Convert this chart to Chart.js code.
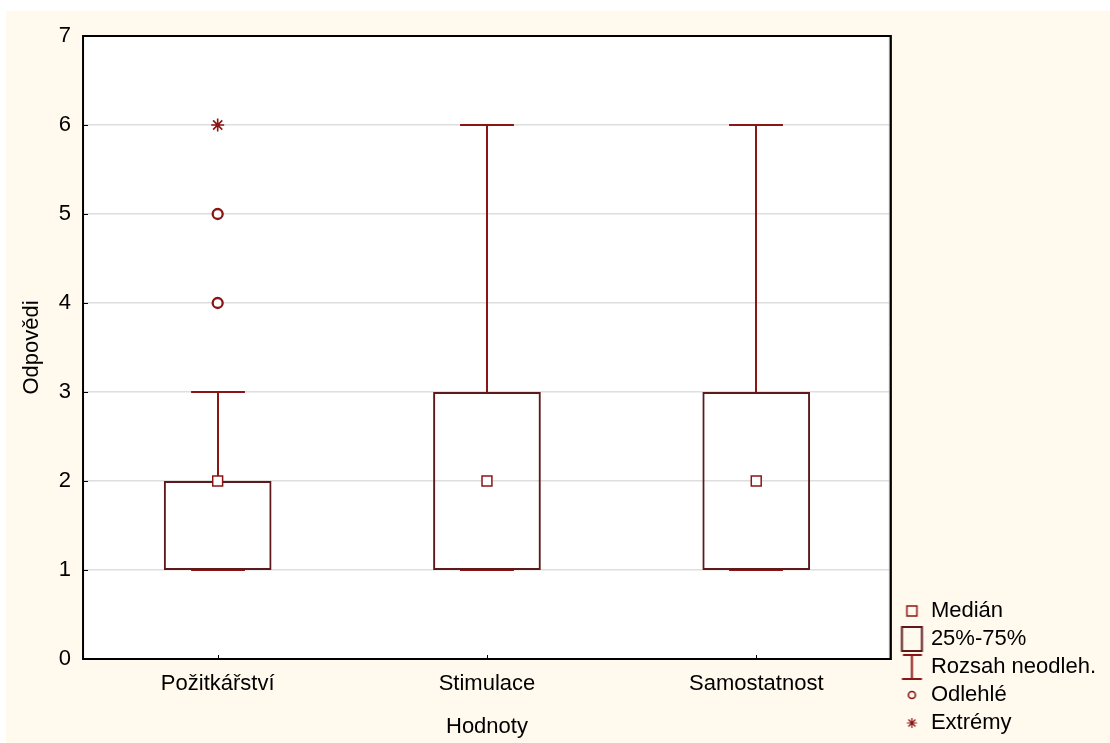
<!DOCTYPE html>
<html lang="cs">
<head>
<meta charset="utf-8">
<title>Odpovědi podle hodnot</title>
<script src="https://cdn.jsdelivr.net/npm/chart.js@4.4.1/dist/chart.umd.min.js"></script>
<style>
  html, body { margin: 0; padding: 0; background: #ffffff; }
  #wrap { width: 1110px; height: 743px; position: relative; }
</style>
</head>
<body>
<div id="wrap"><canvas id="chart"></canvas></div>
<script>
// Box-plot statistics per value category
const categories = ['Požitkářství', 'Stimulace', 'Samostatnost'];
const lowerQuartile = [1, 1, 1];
const upperQuartile = [2, 3, 3];
const medians = [2, 2, 2];
const rangeMin = [1, 1, 1];
const rangeMax = [3, 6, 6];
const outliers = [[4, 5], [], []];
const extremes = [[6], [], []];
const yTicks = [0, 1, 2, 3, 4, 5, 6, 7];
const legendLabels = ['Medián', '25%-75%', 'Rozsah neodleh.', 'Odlehlé', 'Extrémy'];

const CREAM = '#fff9ee';
const BOX_EDGE = '#5e1a1a';
const MARK = '#8b1414';
const FONT = '"Liberation Sans", Arial, Helvetica, sans-serif';

Chart.defaults.font.family = FONT;
Chart.defaults.font.size = 22;
Chart.defaults.color = '#000';

// Legend symbols drawn on small canvases
function makeIcon(draw) {
  const c = document.createElement('canvas');
  c.width = 32; c.height = 32;
  const g = c.getContext('2d');
  draw(g, 19.5, 16);
  return c;
}
const legendIcons = [
  makeIcon((g, x, y) => { g.strokeStyle = MARK; g.lineWidth = 1.5; g.strokeRect(x - 5, y - 5, 10, 10); }),
  makeIcon((g, x, y) => { g.strokeStyle = BOX_EDGE; g.lineWidth = 2; g.strokeRect(x - 10, y - 12, 20, 24); }),
  makeIcon((g, x, y) => {
    g.strokeStyle = MARK; g.lineWidth = 2; g.beginPath();
    g.moveTo(x - 9, y - 12); g.lineTo(x + 10, y - 12);
    g.moveTo(x - 10, y + 12); g.lineTo(x + 10, y + 12);
    g.moveTo(x, y - 12); g.lineTo(x, y + 12);
    g.stroke();
  }),
  makeIcon((g, x, y) => { g.strokeStyle = MARK; g.lineWidth = 1.6; g.beginPath(); g.arc(x, y, 3.5, 0, Math.PI * 2); g.stroke(); }),
  makeIcon((g, x, y) => {
    g.strokeStyle = MARK; g.lineWidth = 1.2; g.beginPath();
    g.moveTo(x - 5, y); g.lineTo(x + 5, y);
    g.moveTo(x, y - 5); g.lineTo(x, y + 5);
    g.moveTo(x - 3.5, y - 3.5); g.lineTo(x + 3.5, y + 3.5);
    g.moveTo(x - 3.5, y + 3.5); g.lineTo(x + 3.5, y - 3.5);
    g.stroke();
  })
];

// Page background, white plotting area
const backgroundPlugin = {
  id: 'background',
  beforeDraw(chart) {
    const { ctx, width, height, chartArea: a } = chart;
    ctx.save();
    ctx.fillStyle = '#ffffff';
    ctx.fillRect(0, 0, width, height);
    ctx.fillStyle = CREAM;
    ctx.fillRect(6, 11, width - 6, height - 11);
    ctx.fillStyle = '#ffffff';
    ctx.fillRect(a.left, a.top, a.right - a.left, a.bottom - a.top);
    ctx.restore();
  }
};

// Whiskers (non-outlier range) drawn behind the boxes
const whiskerPlugin = {
  id: 'whiskers',
  beforeDatasetsDraw(chart) {
    const { ctx, scales: { x, y } } = chart;
    const catW = x.getPixelForValue(1) - x.getPixelForValue(0);
    const cap = catW * 0.1;
    ctx.save();
    ctx.strokeStyle = MARK;
    ctx.lineWidth = 2;
    categories.forEach((_, i) => {
      const cx = Math.round(x.getPixelForValue(i));
      const top = y.getPixelForValue(rangeMax[i]);
      const q3 = y.getPixelForValue(upperQuartile[i]);
      const bot = y.getPixelForValue(rangeMin[i]);
      const q1 = y.getPixelForValue(lowerQuartile[i]);
      ctx.beginPath();
      ctx.moveTo(cx, top); ctx.lineTo(cx, q3);
      ctx.moveTo(cx - cap, top); ctx.lineTo(cx + cap, top);
      ctx.moveTo(cx, bot); ctx.lineTo(cx, q1);
      ctx.moveTo(cx - cap, bot); ctx.lineTo(cx + cap, bot);
      ctx.stroke();
    });
    ctx.restore();
  }
};

// Plot frame and short inward tick marks
const framePlugin = {
  id: 'frame',
  afterDraw(chart) {
    const { ctx, chartArea: a, scales: { x, y } } = chart;
    ctx.save();
    ctx.strokeStyle = '#000';
    ctx.lineWidth = 1;
    ctx.beginPath();
    yTicks.forEach(v => {
      const py = Math.round(y.getPixelForValue(v)) + 0.5;
      ctx.moveTo(a.left, py); ctx.lineTo(a.left + 5, py);
    });
    categories.forEach((_, i) => {
      const px = Math.round(x.getPixelForValue(i)) + 0.5;
      ctx.moveTo(px, a.bottom); ctx.lineTo(px, a.bottom - 4);
    });
    ctx.stroke();
    ctx.strokeStyle = '#9a9a9a';
    ctx.lineWidth = 1;
    ctx.beginPath();
    ctx.moveTo(a.right - 1.5, a.top); ctx.lineTo(a.right - 1.5, a.bottom);
    ctx.stroke();
    ctx.strokeStyle = '#000';
    ctx.lineWidth = 2;
    ctx.strokeRect(a.left, a.top, a.right - a.left, a.bottom - a.top);
    ctx.restore();
  }
};

const toPoints = groups => groups.flatMap((vals, i) => vals.map(v => ({ x: categories[i], y: v })));

new Chart(document.getElementById('chart'), {
  type: 'bar',
  data: {
    labels: categories,
    datasets: [
      {
        type: 'bar',
        label: '25%-75%',
        data: categories.map((_, i) => [lowerQuartile[i], upperQuartile[i]]),
        backgroundColor: 'rgba(255,255,255,0)',
        borderColor: BOX_EDGE,
        borderWidth: 2,
        borderSkipped: false,
        barPercentage: 0.4,
        categoryPercentage: 1,
        order: 3
      },
      {
        type: 'line',
        label: 'Medián',
        data: medians.map((v, i) => ({ x: categories[i], y: v })),
        showLine: false,
        pointStyle: 'rect',
        pointRadius: 7,
        pointBorderWidth: 1.5,
        pointBorderColor: MARK,
        pointBackgroundColor: '#ffffff',
        order: 2
      },
      {
        type: 'line',
        label: 'Odlehlé',
        data: toPoints(outliers),
        showLine: false,
        pointStyle: 'circle',
        pointRadius: 5,
        pointBorderWidth: 2.3,
        pointBorderColor: MARK,
        pointBackgroundColor: '#ffffff',
        order: 1
      },
      {
        type: 'line',
        label: 'Extrémy',
        data: toPoints(extremes),
        showLine: false,
        pointStyle: 'star',
        pointRadius: 6.5,
        pointBorderWidth: 1.6,
        pointBorderColor: MARK,
        order: 0
      }
    ]
  },
  options: {
    responsive: true,
    maintainAspectRatio: false,
    animation: false,
    events: [],
    layout: { padding: { left: 6, top: 36, right: 4, bottom: 3 } },
    plugins: {
      tooltip: { enabled: false },
      legend: {
        position: 'right',
        align: 'end',
        onClick: null,
        labels: {
          usePointStyle: true,
          pointStyleWidth: 23,
          padding: 6,
          color: '#000',
          font: { size: 22 },
          generateLabels: () => legendLabels.map((text, i) => ({
            text,
            pointStyle: legendIcons[i],
            fillStyle: 'rgba(0,0,0,0)',
            strokeStyle: 'rgba(0,0,0,0)',
            lineWidth: 0,
            hidden: false,
            index: i,
            fontColor: '#000'
          }))
        }
      }
    },
    scales: {
      x: {
        type: 'category',
        offset: true,
        grid: { display: false, drawTicks: false },
        border: { display: false },
        ticks: { padding: 12, color: '#000', font: { size: 22 } },
        title: { display: true, text: 'Hodnoty', color: '#000', font: { size: 22 }, padding: { top: 4.2, bottom: 0 } }
      },
      y: {
        min: 0,
        max: 7,
        afterBuildTicks: s => { s.ticks = yTicks.map(v => ({ value: v })); },
        grid: { color: '#dedede', lineWidth: 1.5, drawTicks: false },
        border: { display: false },
        ticks: { padding: 12, color: '#000', font: { size: 22 } },
        title: { display: true, text: 'Odpovědi', color: '#000', font: { size: 22 }, padding: { top: 12.3, bottom: 2.1 } }
      }
    }
  },
  plugins: [backgroundPlugin, whiskerPlugin, framePlugin]
});
</script>
</body>
</html>
